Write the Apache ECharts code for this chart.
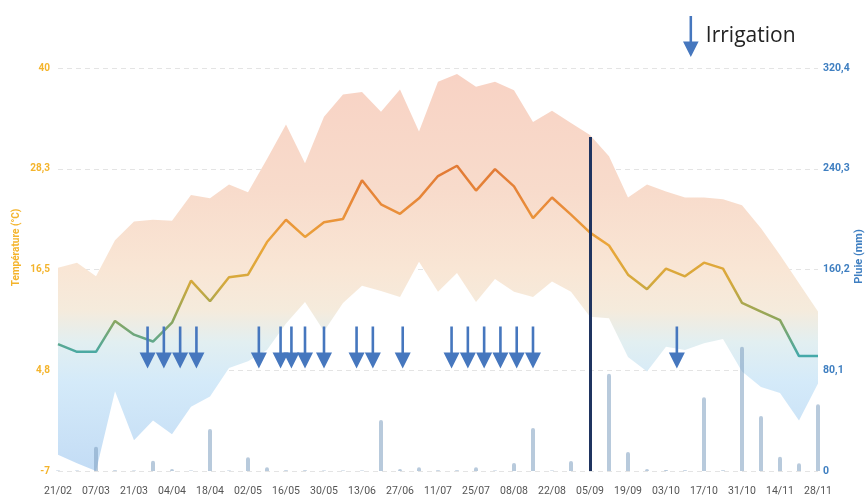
<!DOCTYPE html>
<html>
<head>
<meta charset="utf-8">
<script src="https://cdn.jsdelivr.net/npm/echarts@6/dist/echarts.min.js"></script>
<style>
  html, body { margin: 0; padding: 0; background: #ffffff; }
  #chart { width: 868px; height: 499px; }
</style>
</head>
<body>
<div id="chart"></div>
<script>
// ---------- data ----------
const weeks = ['21/02','28/02','07/03','14/03','21/03','28/03','04/04','11/04','18/04','25/04',
  '02/05','09/05','16/05','23/05','30/05','06/06','13/06','20/06','27/06','04/07',
  '11/07','18/07','25/07','01/08','08/08','15/08','22/08','29/08','05/09','12/09',
  '19/09','26/09','03/10','10/10','17/10','24/10','31/10','07/11','14/11','21/11','28/11'];

const tempMean = [7.8, 6.9, 6.9, 10.5, 8.9, 8.1, 10.3, 15.2, 12.8, 15.6,
  15.9, 19.7, 22.3, 20.3, 22.0, 22.4, 26.9, 24.1, 23.0, 24.8,
  27.4, 28.6, 25.7, 28.2, 26.2, 22.5, 24.9, 22.9, 20.8, 19.3,
  15.9, 14.2, 16.6, 15.7, 17.3, 16.6, 12.6, 11.6, 10.6, 6.4, 6.4];

const tempMax = [16.7, 17.3, 15.7, 19.9, 22.1, 22.3, 22.2, 25.2, 24.8, 26.4,
  25.5, 29.4, 33.4, 28.9, 34.3, 36.9, 37.2, 34.9, 37.5, 32.6,
  38.4, 39.3, 37.8, 38.4, 37.4, 33.7, 35.0, 33.6, 32.2, 29.7,
  24.9, 26.4, 25.6, 24.9, 24.9, 24.7, 24.0, 21.3, 18.2, 14.9, 11.6];

const tempMin = [-5.1, -6.1, -7.0, 2.3, -3.4, -1.1, -2.7, 0.5, 1.7, 5.0,
  5.8, 7.1, 10.2, 12.7, 9.3, 12.6, 14.6, 14.0, 13.3, 17.4,
  13.9, 16.1, 12.7, 15.4, 13.9, 13.3, 15.1, 13.9, 11.0, 10.8,
  6.3, 4.6, 7.5, 7.1, 7.9, 8.4, 4.6, 2.8, 2.1, -1.1, 3.2];

const rain = [0.3, 0.3, 19.3, 0.5, 0.3, 8.2, 1.5, 0.3, 33.4, 0.3,
  10.9, 3.0, 0.5, 0.5, 0.3, 0.3, 0.3, 40.5, 1.5, 3.0,
  0.5, 0.5, 3.0, 0.3, 6.3, 34.2, 0.3, 8.0, 0, 77.4,
  15.1, 1.6, 0.8, 0.5, 58.7, 0.5, 98.8, 43.7, 11.4, 6.1, 53.0];

const irrigationDates = ['26/03','01/04','07/04','13/04','06/05','14/05','18/05','23/05','30/05',
  '11/06','17/06','28/06','16/07','22/07','28/07','03/08','09/08','15/08','07/10'];

const todayLabel = '05/09';
const todayRain = 265.5;

const tempTicks = { min: -7, max: 40, interval: 11.75 };
const rainTicks = { min: 0, max: 320.4, interval: 80.1 };

// ---------- helpers ----------
const YEAR = 2023;
const startUTC = Date.UTC(YEAR, 1, 21);
function dayOffset(s) {
  const [d, m] = s.split('/').map(Number);
  return Math.round((Date.UTC(YEAR, m - 1, d) - startUTC) / 86400000);
}
const totalDays = dayOffset(weeks[weeks.length - 1]);
function fmt(v) {
  return String(parseFloat(Number(v).toFixed(1))).replace('.', ',');
}
const bandDiff = tempMax.map((v, i) => +(v - tempMin[i]).toFixed(2));
const arrowPath = 'path://M6.7,0 L9.3,0 L9.3,26 L16,26 L8,42 L0,26 L6.7,26 Z';
const ARROW_LEVEL = 7.4;

const GRID = { left: 58, right: 50, top: 68, bottom: 28, outerBoundsMode: 'none', containLabel: false };

const bandGradient = new echarts.graphic.LinearGradient(0, GRID.top, 0, 499 - GRID.bottom, [
  { offset: 0.00, color: '#f8d2c4' },
  { offset: 0.30, color: '#f8dbcb' },
  { offset: 0.50, color: '#f9e6d5' },
  { offset: 0.60, color: '#f5ebdc' },
  { offset: 0.68, color: '#e2eff1' },
  { offset: 0.78, color: '#d4eaf9' },
  { offset: 1.00, color: '#c3dcf5' }
], true);

const chart = echarts.init(document.getElementById('chart'), null, { renderer: 'canvas' });

chart.setOption({
  animation: false,
  backgroundColor: '#ffffff',
  textStyle: { fontFamily: 'Roboto, "Noto Sans", sans-serif' },
  grid: GRID,
  legend: {
    left: 678, top: 11,
    itemWidth: 16, itemHeight: 41,
    data: [{ name: 'Irrigation', icon: arrowPath, itemStyle: { color: '#4677be', opacity: 1 } }],
    textStyle: { fontFamily: '"Open Sans", sans-serif', fontSize: 21, color: '#222222', padding: [0, 0, 0, 2] },
    selectedMode: false
  },
  visualMap: {
    show: false,
    type: 'continuous',
    seriesIndex: 3,
    dimension: 1,
    min: 6.5, max: 28,
    inRange: { color: ['#45a9a9', '#8fa65a', '#d6a93c', '#eba63a', '#e98c3a', '#e27b36'] }
  },
  xAxis: [
    {
      type: 'category',
      data: weeks,
      boundaryGap: false,
      axisLine: { show: false },
      axisTick: { show: false },
      axisLabel: { interval: 1, color: '#555555', fontSize: 10.5, margin: 15 },
      splitLine: { show: false }
    },
    { type: 'value', min: 0, max: totalDays, show: false }
  ],
  yAxis: [
    {
      type: 'value',
      min: tempTicks.min, max: tempTicks.max, interval: tempTicks.interval,
      name: 'Température (°C)',
      nameLocation: 'middle',
      nameGap: 37,
      nameMoveOverlap: false,
      nameTextStyle: { color: '#f4b42c', fontSize: 10, fontWeight: 'bold', padding: [0, 0, 0, 44] },
      axisLine: { show: false },
      axisTick: { show: false },
      axisLabel: { color: '#f4b42c', fontSize: 10, fontWeight: 'bold', formatter: fmt },
      splitLine: { lineStyle: { color: '#e4e4e4', type: [5, 4], width: 1 } }
    },
    {
      type: 'value',
      min: rainTicks.min, max: rainTicks.max, interval: rainTicks.interval,
      name: 'Pluie (mm)',
      nameLocation: 'middle',
      nameGap: 36,
      nameMoveOverlap: false,
      nameTextStyle: { color: '#3f7fc1', fontSize: 11, fontWeight: 'bold', padding: [0, 0, 0, 26] },
      axisLine: { show: false },
      axisTick: { show: false },
      axisLabel: { color: '#3f7fc1', fontSize: 10.5, fontWeight: 'bold', margin: 5, formatter: fmt },
      splitLine: { show: false }
    }
  ],
  series: [
    {
      name: 'tmin', type: 'line', data: tempMin,
      stack: 'band', stackStrategy: 'all',
      symbol: 'none', lineStyle: { opacity: 0 }, silent: true, z: 1
    },
    {
      name: 'band', type: 'line', data: bandDiff,
      stack: 'band', stackStrategy: 'all',
      symbol: 'none', lineStyle: { opacity: 0 },
      areaStyle: { color: bandGradient, opacity: 1 }, silent: true, z: 1
    },
    {
      name: 'Pluie', type: 'bar', yAxisIndex: 1, data: rain,
      barWidth: 4,
      itemStyle: { color: 'rgba(125,158,192,0.55)', borderRadius: [2, 2, 0, 0] },
      z: 2,
      markLine: {
        silent: true,
        symbol: ['none', 'none'],
        label: { show: false },
        lineStyle: { color: '#1f3460', width: 3, type: 'solid' },
        data: [[{ coord: [todayLabel, 0] }, { coord: [todayLabel, todayRain] }]]
      }
    },
    {
      name: 'Température', type: 'line', data: tempMean,
      symbol: 'none', lineStyle: { width: 2.5 }, z: 3
    },
    {
      name: 'Irrigation', type: 'scatter', xAxisIndex: 1, yAxisIndex: 0,
      data: irrigationDates.map(d => [dayOffset(d), ARROW_LEVEL]),
      symbol: arrowPath, symbolSize: [16, 42],
      itemStyle: { color: '#4677be', opacity: 1 }, z: 5
    }
  ]
});
</script>
</body>
</html>
